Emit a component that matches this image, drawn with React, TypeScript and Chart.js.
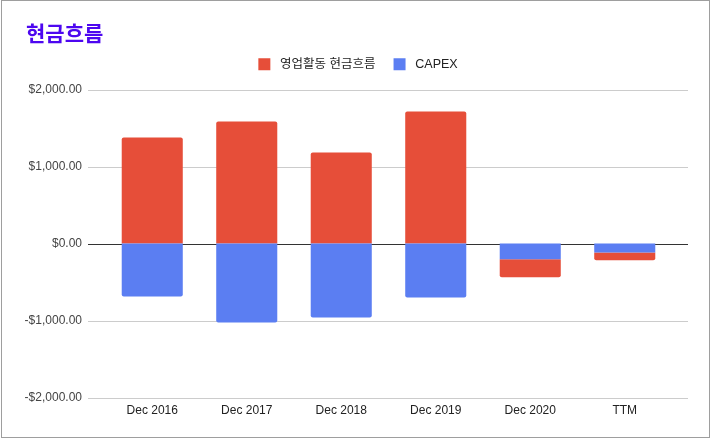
import React, { useEffect, useRef } from "react";
import { Chart, registerables } from "chart.js";

Chart.register(...registerables);

const categories = ["Dec 2016", "Dec 2017", "Dec 2018", "Dec 2019", "Dec 2020", "TTM"];
const operatingCashFlow = [1377, 1584, 1182, 1714, -234, -100];
const capex = [-688, -1026, -961, -701, -204, -117];
const yTicks = [-2000, -1000, 0, 1000, 2000];

const FONT = "'Liberation Sans', Arial, 'Noto Sans CJK KR', sans-serif";
const GRID_EXTEND_LEFT = 17;
const GRID_EXTEND_RIGHT = 16;

function fmt(v: number): string {
  const s = Math.abs(v).toLocaleString("en-US", { minimumFractionDigits: 2, maximumFractionDigits: 2 });
  return (v < 0 ? "-$" : "$") + s;
}

const legendMargin = {
  id: "legendMargin",
  beforeInit(chart: any) {
    const legend = chart.legend;
    if (!legend) return;
    const orig = legend.fit;
    legend.fit = function () {
      orig.call(this);
      this.height += 10;
    };
  },
  afterLayout(chart: any) {
    const legend = chart.legend;
    if (!legend) return;
    legend.left = 4;
    legend.right = chart.width;
    legend.width = legend.right - legend.left;
    legend.top += 1;
    legend.bottom += 1;
  },
};

const gridPlugin = {
  id: "extGrid",
  beforeDatasetsDraw(chart: any) {
    const { ctx, chartArea, scales } = chart;
    const y = scales.y;
    ctx.save();
    ctx.lineWidth = 1;
    for (const v of yTicks) {
      const py = Math.round(y.getPixelForValue(v)) + 0.5;
      ctx.strokeStyle = v === 0 ? "#333333" : "#cccccc";
      ctx.beginPath();
      ctx.moveTo(chartArea.left - GRID_EXTEND_LEFT, py);
      ctx.lineTo(chartArea.right + GRID_EXTEND_RIGHT, py);
      ctx.stroke();
    }
    ctx.restore();
  },
};

export default function App() {
  const ref = useRef<HTMLCanvasElement | null>(null);
  useEffect(() => {
    document.body.style.margin = "0";
    const chart = new Chart(ref.current as HTMLCanvasElement, {
      type: "bar",
      data: {
        labels: categories,
        datasets: [
          {
            label: "영업활동 현금흐름",
            data: operatingCashFlow,
            backgroundColor: "#e64e39",
            borderRadius: 2,
            order: 1,
          },
          {
            label: "CAPEX",
            data: capex,
            backgroundColor: "#5b7ef2",
            borderRadius: 2,
            order: 0,
          },
        ],
      },
      plugins: [legendMargin, gridPlugin],
      options: {
        animation: false,
        responsive: false,
        maintainAspectRatio: false,
        layout: { padding: { top: 39, right: 40, bottom: 17, left: 0 } },
        datasets: { bar: { barPercentage: 0.646, categoryPercentage: 1 } },
        plugins: {
          title: { display: false },
          tooltip: { enabled: false },
          legend: {
            position: "top",
            labels: {
              boxWidth: 12,
              boxHeight: 12,
              color: "#222",
              font: { family: FONT, size: 12.5 },
              padding: 18,
              sort: (a: any, b: any) => a.datasetIndex - b.datasetIndex,
              generateLabels: (chart: any) =>
                Chart.defaults.plugins.legend.labels
                  .generateLabels(chart)
                  .map((l: any) => ({ ...l, text: " " + l.text })),
            },
          },
        },
        scales: {
          x: {
            stacked: true,
            grid: { display: false, drawTicks: false },
            border: { display: false },
            ticks: { color: "#222", font: { family: FONT, size: 12 }, padding: 6 },
          },
          y: {
            stacked: true,
            min: -2000,
            max: 2000,
            afterBuildTicks: (axis: any) => {
              axis.ticks = yTicks.map((v) => ({ value: v }));
            },
            afterFit: (axis: any) => {
              axis.width = 105;
            },
            grid: { display: false, drawTicks: false },
            border: { display: false },
            ticks: {
              color: "#444",
              font: { family: FONT, size: 12 },
              padding: 23,
              callback: (v: any) => fmt(Number(v)),
            },
          },
        },
      },
    });
    return () => chart.destroy();
  }, []);

  return (
    <div style={{ position: "fixed", left: 0, top: 0, width: 712, height: 441, background: "#fff" }}>
      <canvas ref={ref} width={712} height={441} style={{ position: "absolute", left: 0, top: 0 }} />
      <div
        style={{
          position: "absolute",
          left: 26,
          top: 17,
          fontFamily: "'Noto Sans CJK KR', sans-serif",
          fontWeight: 700,
          fontSize: 21,
          color: "#4d07f0",
          lineHeight: "30px",
        }}
      >
        현금흐름
      </div>
      <div
        style={{
          position: "absolute",
          left: 1,
          top: 0,
          width: 709,
          height: 438,
          border: "1px solid #9e9e9e",
          boxSizing: "border-box",
          pointerEvents: "none",
        }}
      />
    </div>
  );
}
